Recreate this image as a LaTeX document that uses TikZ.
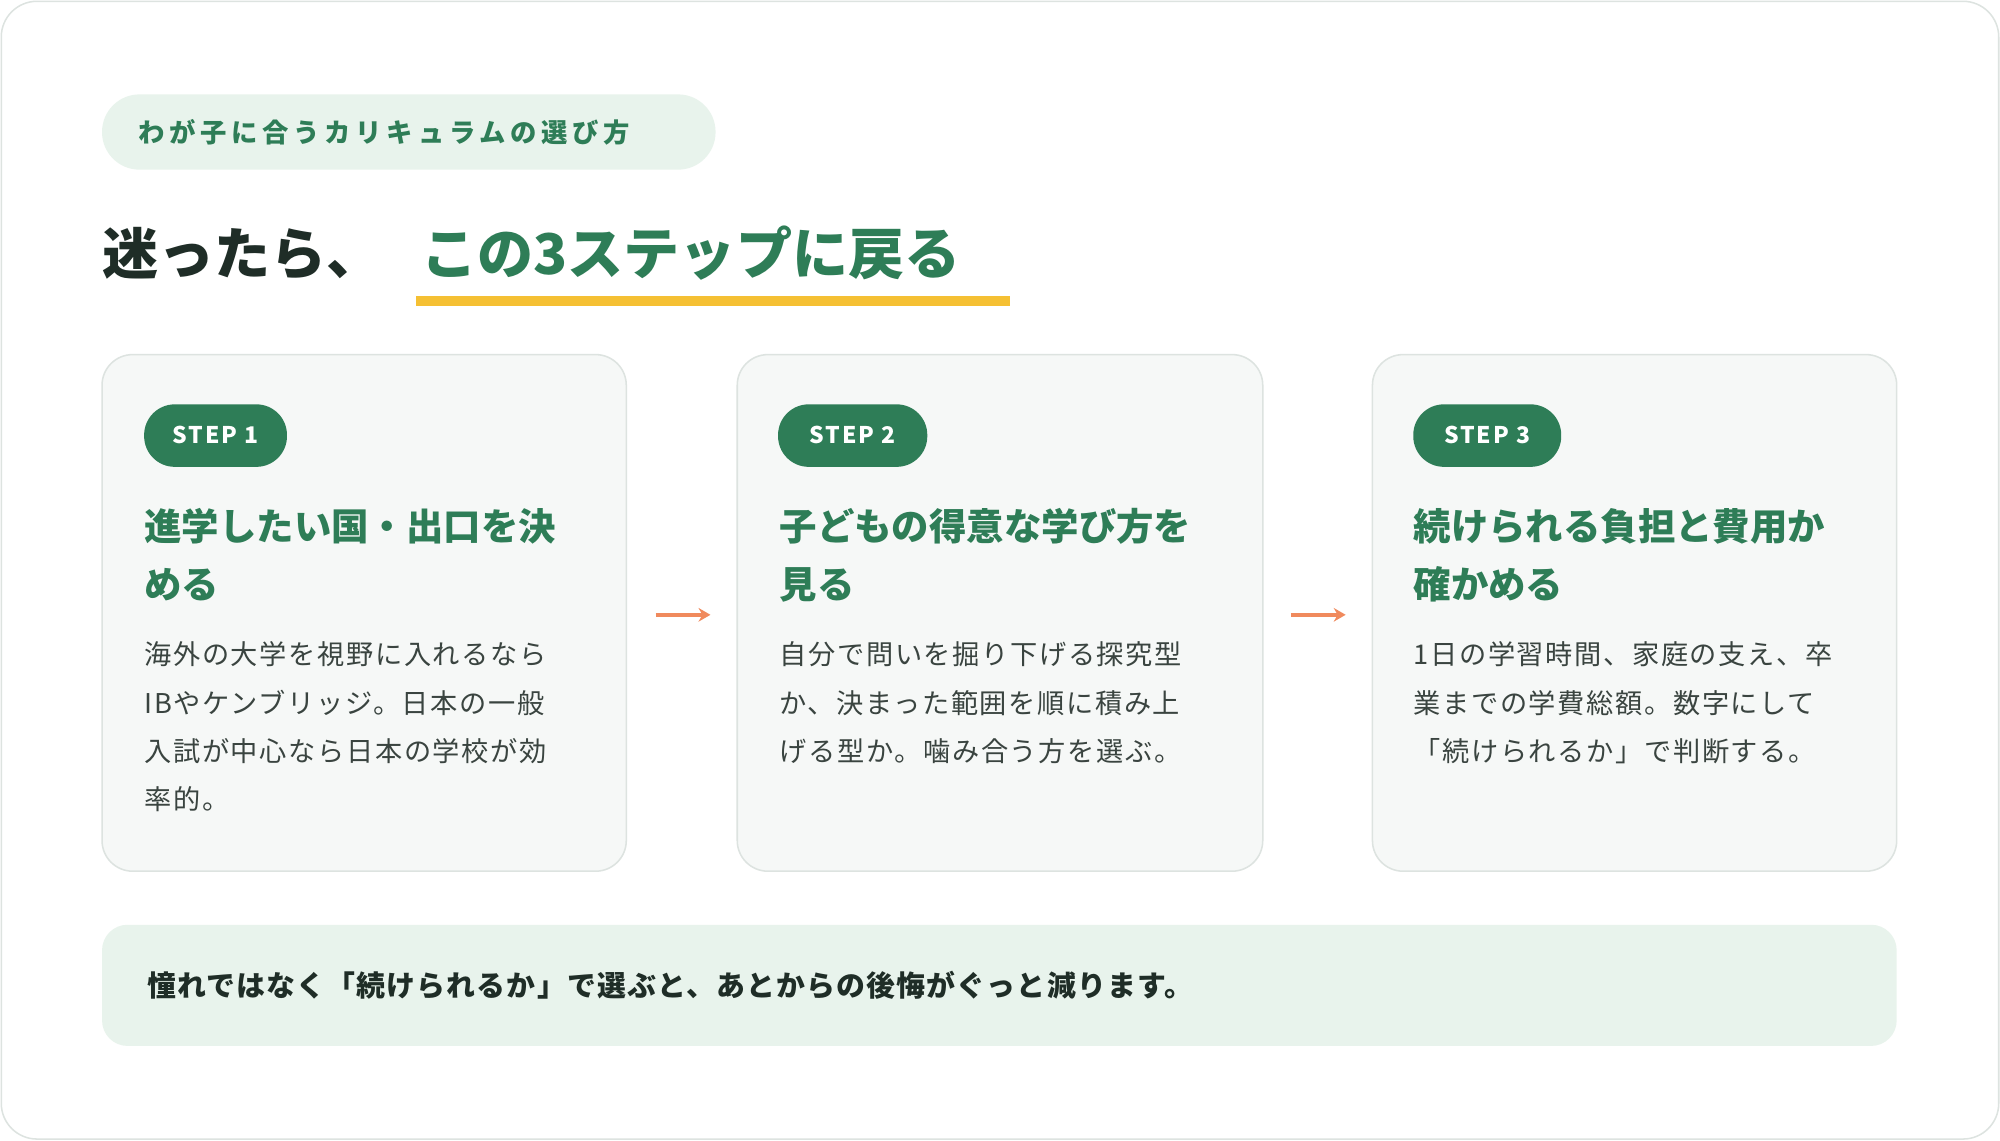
\documentclass[tikz,border=0pt]{standalone}
\usepackage{fontspec}
\setmainfont{Noto Sans CJK JP}
\usetikzlibrary{arrows.meta}
\definecolor{green}{HTML}{2E7D57}
\definecolor{pale}{HTML}{E8F3EC}
\definecolor{dark}{HTML}{1F2D27}
\definecolor{body}{HTML}{3A4440}
\definecolor{card}{HTML}{F6F8F7}
\definecolor{cardline}{HTML}{DDE3E0}
\definecolor{yel}{HTML}{F5C033}
\definecolor{org}{HTML}{F08A5D}
\begin{document}
\begin{tikzpicture}[x=0.75pt,y=-0.75pt,
  card/.style={fill=card,draw=cardline,line width=0.9pt,rounded corners=18pt},
  steppill/.style={fill=green,rounded corners=18pt},
  steptxt/.style={anchor=base,text=white,font=\bfseries\fontsize{13.5}{16}\selectfont\addfontfeature{LetterSpace=8}},
  head/.style={anchor=base west,inner sep=0,text=green,font=\bfseries\fontsize{22}{26}\selectfont},
  bd/.style={anchor=base west,inner sep=0,text=body,font=\fontsize{16}{20}\selectfont\addfontfeature{LetterSpace=6}},
  arr/.style={draw=org,line width=2.4pt,-{Stealth[length=7pt,width=8pt]}}]
\useasboundingbox (0,0) rectangle (1568,894);
\draw[draw=cardline,line width=0.9pt,fill=white,rounded corners=21pt] (1,1) rectangle (1567,893);
% tag
\fill[pale,rounded corners=22pt] (80,74) rectangle (561,133);
\node[anchor=base west,inner sep=0,text=green,font=\bfseries\fontsize{15.5}{18}\selectfont\addfontfeature{LetterSpace=18}] (tag) at (108,112) {わが子に合うカリキュラムの選び方};
% title
\node[anchor=base west,inner sep=0,text=dark,font=\bfseries\fontsize{33}{38}\selectfont] (t1) at (80,215) {迷ったら、};
\fill[yel] (326,232) rectangle (792,240);
\node[anchor=base west,inner sep=0,text=green,font=\bfseries\fontsize{33}{38}\selectfont] (t2) at (330,215) {この3ステップに戻る};
% cards
\draw[card] (80,278) rectangle (491,683);
\draw[card] (578,278) rectangle (990,683);
\draw[card] (1076,278) rectangle (1487,683);
\fill[steppill] (113,317) rectangle (225,366);
\fill[steppill] (610,317) rectangle (727,366);
\fill[steppill] (1108,317) rectangle (1224,366);
\node[steptxt] (s1) at (169,348) {STEP 1};
\node[steptxt] (s2) at (668.5,348) {STEP 2};
\node[steptxt] (s3) at (1166,348) {STEP 3};
\node[head] (h1a) at (113,424) {進学したい国・出口を決};
\node[head] (h1b) at (113,469) {める};
\node[head] (h2a) at (611,424) {子どもの得意な学び方を};
\node[head] (h2b) at (611,469) {見る};
\node[head] (h3a) at (1108,424) {続けられる負担と費用か};
\node[head] (h3b) at (1108,469) {確かめる};
\node[bd] (b1a) at (113,521) {海外の大学を視野に入れるなら};
\node[bd] (b1b) at (113,559) {IBやケンブリッジ。日本の一般};
\node[bd] (b1c) at (113,597) {入試が中心なら日本の学校が効};
\node[bd] (b1d) at (113,635) {率的。};
\node[bd] (b2a) at (611,521) {自分で問いを掘り下げる探究型};
\node[bd] (b2b) at (611,559) {か、決まった範囲を順に積み上};
\node[bd] (b2c) at (611,597) {げる型か。噛み合う方を選ぶ。};
\node[bd] (b3a) at (1108,521) {1日の学習時間、家庭の支え、卒};
\node[bd] (b3b) at (1108,559) {業までの学費総額。数字にして};
\node[bd] (b3c) at (1108,597) {「続けられるか」で判断する。};
% arrows
\coordinate (a1s) at (514,482); \coordinate (a1e) at (557,482);
\coordinate (a2s) at (1012,482); \coordinate (a2e) at (1055,482);
\draw[arr] (a1s) -- (a1e);
\draw[arr] (a2s) -- (a2e);
% bottom
\fill[pale,rounded corners=15pt] (80,725) rectangle (1487,820);
\node[anchor=base west,inner sep=0,text=dark,font=\bfseries\fontsize{17}{20}\selectfont\addfontfeature{LetterSpace=4}] (foot) at (115,781) {憧れではなく「続けられるか」で選ぶと、あとからの後悔がぐっと減ります。};
\end{tikzpicture}
\end{document}
